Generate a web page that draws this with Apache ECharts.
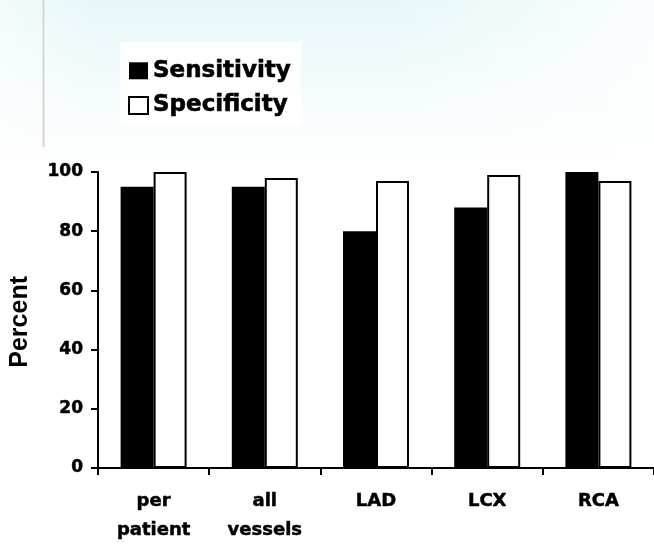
<!DOCTYPE html>
<html>
<head>
<meta charset="utf-8">
<script src="https://cdn.jsdelivr.net/npm/echarts@6/dist/echarts.min.js"></script>
<style>
html,body{margin:0;padding:0;background:#fff;}
#chart{width:654px;height:549px;}
</style>
</head>
<body>
<div id="chart"></div>
<script>
var categories = ['per\npatient', 'all\nvessels', 'LAD', 'LCX', 'RCA'];
var sensitivity = [95, 95, 80, 88, 100];
var specificity = [100, 98, 97, 99, 97];
var yTicks = [0, 20, 40, 60, 80, 100];

var chart = echarts.init(document.getElementById('chart'), null, {renderer: 'canvas'});
var boldFont = 'DejaVu Sans';
chart.setOption({
  animation: false,
  backgroundColor: '#ffffff',
  graphic: [
    {type: 'rect', z: -10, shape: {x: 0, y: 0, width: 654, height: 165},
     style: {fill: {type: 'linear', x: 0, y: 0, x2: 0, y2: 1,
       colorStops: [{offset: 0, color: '#e6f7f8'}, {offset: 0.5, color: '#f3fbfc'}, {offset: 1, color: '#ffffff'}]}}},
    {type: 'rect', z: -9, shape: {x: 0, y: 0, width: 654, height: 165},
     style: {fill: {type: 'linear', x: 0, y: 0, x2: 1, y2: 0,
       colorStops: [{offset: 0, color: 'rgba(255,255,255,0.5)'}, {offset: 0.15, color: 'rgba(255,255,255,0)'}, {offset: 0.6, color: 'rgba(255,255,255,0)'}, {offset: 1, color: 'rgba(255,255,255,0.8)'}]}}},
    {type: 'line', z: -8, shape: {x1: 43.5, y1: 0, x2: 43.5, y2: 147}, style: {stroke: '#d6d6d6', lineWidth: 2}},
    {type: 'text', left: 8, top: 276, rotation: Math.PI / 2,
     style: {text: 'Percent', fill: '#000', font: 'bold 25px "Liberation Sans", Arial, sans-serif'}}
  ],
  legend: {
    orient: 'vertical',
    left: 120, top: 42,
    padding: [17, 10, 8, 8],
    backgroundColor: '#ffffff',
    itemGap: 11,
    itemWidth: 19, itemHeight: 17,
    icon: 'rect',
    textStyle: {fontFamily: boldFont, fontWeight: 'bold', fontSize: 23, color: '#000', lineHeight: 23,
      textBorderColor: '#000', textBorderWidth: 0.6},
    data: [
      {name: 'Sensitivity', itemStyle: {color: '#000', borderColor: '#000', borderWidth: 0}},
      {name: 'Specificity', itemStyle: {color: '#fff', borderColor: '#000', borderWidth: 2}}
    ]
  },
  grid: {left: 98, top: 172, width: 559, height: 296, containLabel: false},
  xAxis: {
    type: 'category',
    data: categories,
    axisLine: {lineStyle: {color: '#000', width: 2}},
    axisTick: {show: true, alignWithLabel: false, length: 7, lineStyle: {color: '#000', width: 2}},
    axisLabel: {margin: 19, color: '#000', fontFamily: boldFont, fontWeight: 'bold', fontSize: 18, lineHeight: 29, interval: 0,
      textBorderColor: '#000', textBorderWidth: 0.5}
  },
  yAxis: {
    type: 'value',
    min: 0, max: 100, interval: 20,
    splitLine: {show: false},
    axisLine: {show: true, lineStyle: {color: '#000', width: 2}},
    axisTick: {show: true, length: 7, lineStyle: {color: '#000', width: 2}},
    axisLabel: {margin: 15, color: '#000', fontFamily: boldFont, fontWeight: 'bold', fontSize: 17,
      textBorderColor: '#000', textBorderWidth: 0.5,
      formatter: function (v) { return yTicks.indexOf(v) >= 0 ? String(v) : ''; }}
  },
  series: [
    {name: 'Sensitivity', type: 'bar', data: sensitivity, barWidth: 33, barGap: '0%',
     itemStyle: {color: '#000', borderColor: '#000', borderWidth: 0}},
    {name: 'Specificity', type: 'bar', data: specificity, barWidth: 33, barGap: '0%',
     itemStyle: {color: '#fff', borderColor: '#000', borderWidth: 2}}
  ]
});
</script>
</body>
</html>
